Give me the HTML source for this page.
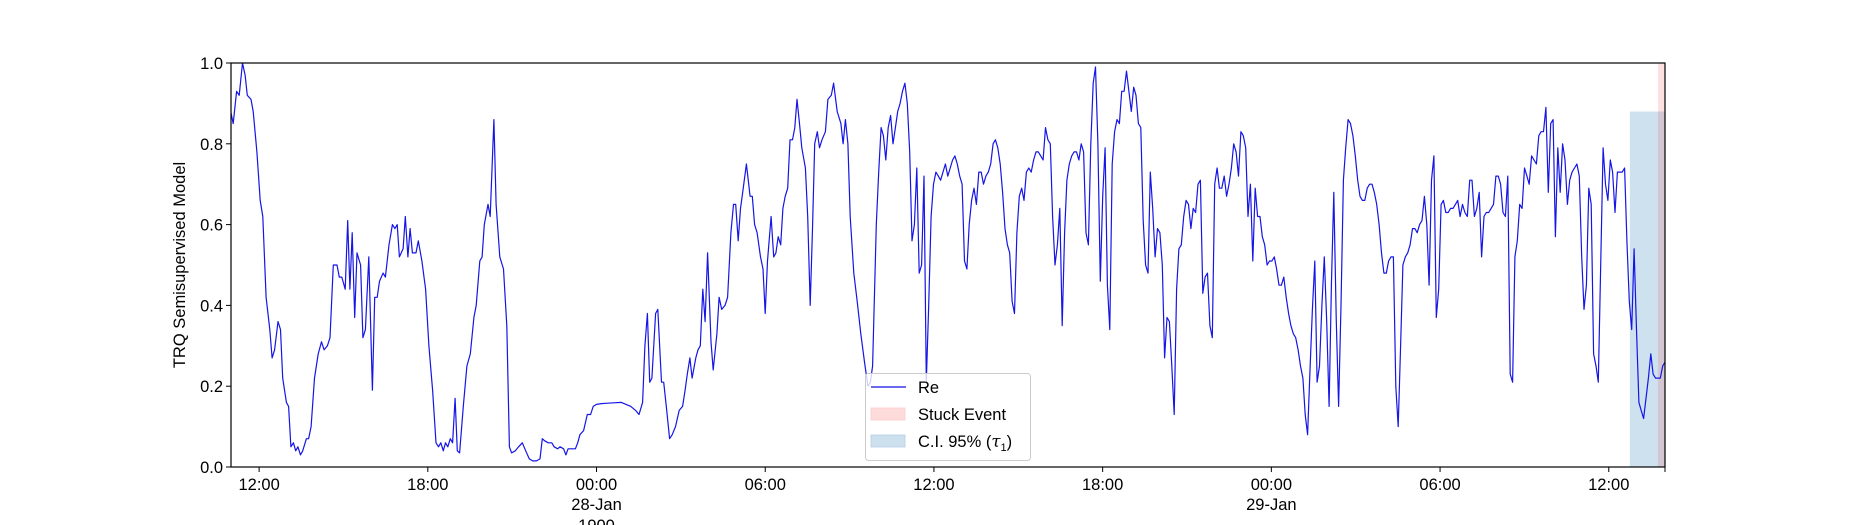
<!DOCTYPE html>
<html><head><meta charset="utf-8">
<style>
html,body{margin:0;padding:0;background:#fff;}
svg{display:block;font-family:"Liberation Sans","DejaVu Sans",sans-serif;}
</style></head>
<body>
<svg id="chart" width="1850" height="525" viewBox="0 0 1850 525" xmlns="http://www.w3.org/2000/svg">
<defs><clipPath id="plotclip"><rect x="231" y="63" width="1434" height="404"/></clipPath></defs>
<g id="bands" clip-path="url(#plotclip)"></g>
<g id="series" clip-path="url(#plotclip)"></g>
<g id="axes"></g>
<text x="0" y="0" transform="translate(185,265) rotate(-90)" text-anchor="middle" font-size="16.5" fill="#000">TRQ Semisupervised Model</text>
<g>
  <rect x="865.5" y="373.5" width="165" height="87" rx="3" fill="#fff" fill-opacity="0.8" stroke="#ccc" stroke-width="1"/>
  <line x1="871" y1="387" x2="906" y2="387" stroke="#1010e8" stroke-width="1.3"/>
  <text x="918" y="393" font-size="16.5">Re</text>
  <rect x="871" y="408" width="34" height="12" fill="#ffdcdc" stroke="#ffc8c8" stroke-width="0.8"/>
  <text x="918" y="420" font-size="16.5">Stuck Event</text>
  <rect x="871" y="435" width="34" height="12" fill="#cde0ee" stroke="#b4cfe3" stroke-width="0.8"/>
  <text x="918" y="447" font-size="16.5">C.I. 95% (<tspan font-family="DejaVu Serif, serif" font-style="italic">τ</tspan><tspan font-size="11" dy="4">1</tspan><tspan dy="-4">)</tspan></text>
</g>
</svg>
<script>
// hours since 27-Jan 12:00 (irregular first segment)
const timesA = [-1.01,-0.92,-0.80,-0.71,-0.59,-0.50,-0.42,-0.29,-0.21,-0.08,0.04,0.13,0.25,0.38,0.46,0.55,0.67,0.76,0.84,0.97,1.05,1.13,1.22,1.30,1.38,1.47,1.55,1.68,1.76,1.85,1.97,2.10,2.22,2.31,2.43,2.52,2.64,2.77,2.85,2.94,3.06,3.15,3.23,3.31,3.40,3.48,3.61,3.69,3.78,3.90,4.03,4.11,4.20,4.28,4.41,4.49,4.62,4.74,4.83,4.91,4.99,5.12,5.20,5.29,5.37,5.45,5.58,5.66,5.79,5.92,6.04,6.17,6.29,6.38,6.46,6.55,6.63,6.71,6.80,6.88,6.97,7.05,7.13,7.26,7.39,7.51,7.64,7.72,7.85,7.93,8.01,8.14,8.22,8.35,8.43,8.56,8.69,8.81,8.90,8.98,9.11,9.23,9.36,9.48,9.61,9.73,9.86,9.99,10.07,10.15,10.28,10.41,10.49,10.62,10.70,10.83,10.91,10.99,11.12,11.25,11.33,11.41,11.54,11.67,11.79,11.88,12.00,12.17,12.38,12.63,12.88,13.05,13.22,13.39,13.51,13.64,13.72,13.81,13.89,13.97,14.10,14.18,14.31,14.39,14.48,14.60,14.69,14.81,14.94,15.06,15.15,15.23,15.32,15.40,15.53,15.61,15.69,15.78,15.86,15.95,16.07,16.15,16.28,16.36,16.45,16.57,16.66,16.78,16.87,16.95,17.04,17.12,17.20,17.33,17.46,17.54,17.62,17.71,17.83,17.92,18.00,18.08,18.21,18.30,18.38,18.46,18.55,18.63,18.71,18.80,18.88,18.97,19.05,19.13,19.22,19.30,19.43,19.51,19.60,19.68,19.76,19.85,19.93,20.02,20.14,20.23,20.35,20.43,20.56,20.69,20.77,20.85,20.94,21.02,21.15,21.27,21.40,21.53,21.65,21.74,21.82];
const valuesA = [0.88,0.85,0.93,0.92,1.0,0.97,0.92,0.91,0.88,0.78,0.66,0.62,0.42,0.34,0.27,0.29,0.36,0.34,0.22,0.16,0.15,0.05,0.06,0.04,0.05,0.03,0.04,0.07,0.07,0.10,0.22,0.28,0.31,0.29,0.30,0.32,0.50,0.50,0.47,0.47,0.44,0.61,0.44,0.58,0.37,0.53,0.50,0.32,0.34,0.52,0.19,0.42,0.42,0.46,0.48,0.47,0.55,0.60,0.59,0.60,0.52,0.54,0.62,0.52,0.59,0.53,0.53,0.56,0.51,0.44,0.30,0.19,0.06,0.05,0.06,0.04,0.06,0.05,0.07,0.06,0.17,0.04,0.035,0.15,0.25,0.28,0.37,0.40,0.51,0.52,0.60,0.65,0.62,0.86,0.65,0.52,0.49,0.35,0.05,0.035,0.04,0.05,0.06,0.04,0.02,0.015,0.015,0.02,0.07,0.065,0.06,0.06,0.05,0.045,0.05,0.045,0.03,0.045,0.045,0.045,0.06,0.08,0.09,0.13,0.13,0.15,0.155,0.157,0.158,0.159,0.16,0.155,0.15,0.14,0.13,0.16,0.3,0.38,0.21,0.22,0.38,0.39,0.21,0.21,0.15,0.07,0.08,0.10,0.14,0.15,0.19,0.23,0.27,0.22,0.27,0.29,0.30,0.44,0.36,0.53,0.31,0.24,0.33,0.42,0.39,0.40,0.42,0.58,0.65,0.65,0.56,0.64,0.68,0.75,0.67,0.67,0.60,0.58,0.52,0.49,0.38,0.51,0.62,0.52,0.53,0.57,0.55,0.64,0.67,0.69,0.81,0.81,0.84,0.91,0.85,0.79,0.74,0.62,0.40,0.59,0.80,0.83,0.79,0.81,0.83,0.91,0.92,0.95,0.88,0.85,0.80,0.86,0.80,0.62,0.48,0.41,0.33,0.26,0.20,0.21,0.25];
// regular samples starting at 28-Jan 09:57 (21.95 h)
const startB = 21.95;
const stepMinutesB = 5.085;
const valuesB = [0.60,0.73,0.84,0.82,0.76,0.84,0.87,0.80,0.84,0.88,0.90,0.93,0.95,0.90,0.78,0.56,0.60,0.74,0.48,0.50,0.72,0.21,0.40,0.62,0.70,0.73,0.72,0.71,0.73,0.75,0.72,0.74,0.76,0.77,0.75,0.72,0.70,0.51,0.49,0.60,0.66,0.69,0.65,0.73,0.73,0.70,0.72,0.73,0.75,0.80,0.81,0.79,0.75,0.68,0.59,0.55,0.53,0.41,0.38,0.58,0.67,0.69,0.66,0.73,0.74,0.73,0.76,0.78,0.78,0.77,0.76,0.84,0.81,0.80,0.62,0.50,0.55,0.64,0.35,0.58,0.71,0.75,0.77,0.78,0.78,0.76,0.80,0.78,0.58,0.55,0.80,0.95,0.99,0.80,0.46,0.67,0.79,0.45,0.34,0.75,0.83,0.86,0.85,0.93,0.93,0.98,0.93,0.88,0.94,0.92,0.85,0.84,0.61,0.50,0.48,0.73,0.64,0.52,0.59,0.58,0.50,0.27,0.37,0.36,0.25,0.13,0.44,0.54,0.55,0.62,0.66,0.65,0.59,0.64,0.63,0.70,0.71,0.43,0.47,0.48,0.35,0.32,0.70,0.74,0.69,0.69,0.72,0.67,0.70,0.74,0.80,0.78,0.72,0.83,0.82,0.79,0.62,0.70,0.51,0.69,0.62,0.62,0.57,0.55,0.50,0.51,0.51,0.52,0.49,0.45,0.45,0.47,0.42,0.38,0.35,0.33,0.32,0.29,0.25,0.22,0.13,0.08,0.24,0.39,0.51,0.21,0.25,0.40,0.52,0.36,0.15,0.45,0.68,0.37,0.15,0.40,0.71,0.79,0.86,0.85,0.82,0.77,0.71,0.67,0.66,0.66,0.69,0.70,0.70,0.68,0.65,0.60,0.53,0.48,0.48,0.51,0.52,0.52,0.20,0.10,0.30,0.50,0.52,0.53,0.55,0.59,0.59,0.58,0.60,0.61,0.67,0.60,0.45,0.71,0.77,0.37,0.44,0.65,0.66,0.63,0.63,0.64,0.64,0.65,0.66,0.62,0.65,0.63,0.62,0.71,0.71,0.62,0.64,0.68,0.52,0.62,0.63,0.63,0.64,0.65,0.72,0.72,0.70,0.63,0.62,0.72,0.23,0.21,0.52,0.56,0.65,0.64,0.74,0.72,0.70,0.77,0.76,0.75,0.82,0.83,0.83,0.89,0.68,0.85,0.86,0.57,0.79,0.68,0.80,0.76,0.65,0.71,0.73,0.74,0.75,0.72,0.52,0.39,0.45,0.69,0.65,0.28,0.25,0.21,0.50,0.79,0.70,0.66,0.76,0.73,0.63,0.73,0.73,0.73,0.74,0.56,0.41,0.34,0.54,0.34,0.16,0.14,0.12,0.17,0.22,0.28,0.23,0.22,0.22,0.22,0.25,0.26];
const ciBand = [48.75, 50.0, 0.0, 0.88];   // start h, end h, low, high
const stuckBand = [49.75, 50.0];
const xTickHours = [0,6,12,18,24,30,36,42,48];
const xTickLabels = ["12:00","18:00","00:00","06:00","12:00","18:00","00:00","06:00","12:00"];
const xDateLabels = ["","","28-Jan","","","","29-Jan","",""];
const xYearLabels = ["","","1900","","","","","",""];
const yTicks = [0.0,0.2,0.4,0.6,0.8,1.0];
const yTickLabels = ["0.0","0.2","0.4","0.6","0.8","1.0"];

const X0=231, X1=1665, Y0=467, Y1=63, HMIN=-1, HMAX=50;
const sx = h => X0 + (h-HMIN)/(HMAX-HMIN)*(X1-X0);
const sy = v => Y0 - v*(Y0-Y1);
const NS="http://www.w3.org/2000/svg";
function mk(tag, attrs, parent){const e=document.createElementNS(NS,tag);for(const k in attrs)e.setAttribute(k,attrs[k]);parent.appendChild(e);return e;}

const bands=document.getElementById('bands');
const ci=mk('rect',{x:sx(ciBand[0]),y:sy(ciBand[3]),width:sx(ciBand[1])-sx(ciBand[0]),height:sy(ciBand[2])-sy(ciBand[3]),fill:'#1f77b4','fill-opacity':0.22},bands);


const st=mk('rect',{x:sx(stuckBand[0]),y:Y1,width:sx(stuckBand[1])-sx(stuckBand[0]),height:Y0-Y1,fill:'#ff0000','fill-opacity':0.12},bands);



const pts=[];
timesA.forEach((h,i)=>pts.push(sx(h).toFixed(1)+','+sy(valuesA[i]).toFixed(1)));
valuesB.forEach((v,i)=>pts.push(sx(startB+i*stepMinutesB/60).toFixed(1)+','+sy(v).toFixed(1)));
const line=mk('polyline',{points:pts.join(' '),fill:'none',stroke:'#1515e6','stroke-width':1.2,'stroke-linejoin':'round'},document.getElementById('series'));



const axes=document.getElementById('axes');
const frame=mk('rect',{x:X0,y:Y1,width:X1-X0,height:Y0-Y1,fill:'none',stroke:'#000','stroke-width':1.2},axes);


yTicks.forEach((v,i)=>{
  const t=mk('line',{x1:X0-5,x2:X0,y1:sy(v),y2:sy(v),stroke:'#000','stroke-width':1},axes);
  
  
  const l=mk('text',{x:X0-8,y:sy(v)+6,'text-anchor':'end','font-size':16.5},axes);
  
  
  l.textContent=yTickLabels[i];
});
xTickHours.forEach((h,i)=>{
  const x=sx(h);
  const t=mk('line',{x1:x,x2:x,y1:Y0,y2:Y0+5,stroke:'#000','stroke-width':1},axes);
  
  
  const l=mk('text',{x:x,y:490,'text-anchor':'middle','font-size':16.5},axes);
  
  
  l.textContent=xTickLabels[i];
  if(xDateLabels[i]){
    const d=mk('text',{x:x,y:510,'text-anchor':'middle','font-size':16.5},axes);
    
    
    d.textContent=xDateLabels[i];
  }
  if(xYearLabels[i]){
    const y=mk('text',{x:x,y:531,'text-anchor':'middle','font-size':16.5},axes);
    
    
    y.textContent=xYearLabels[i];
  }
});
const et=mk('line',{x1:X1,x2:X1,y1:Y0,y2:Y0+5,stroke:'#000','stroke-width':1},axes);


</script>
</body></html>
